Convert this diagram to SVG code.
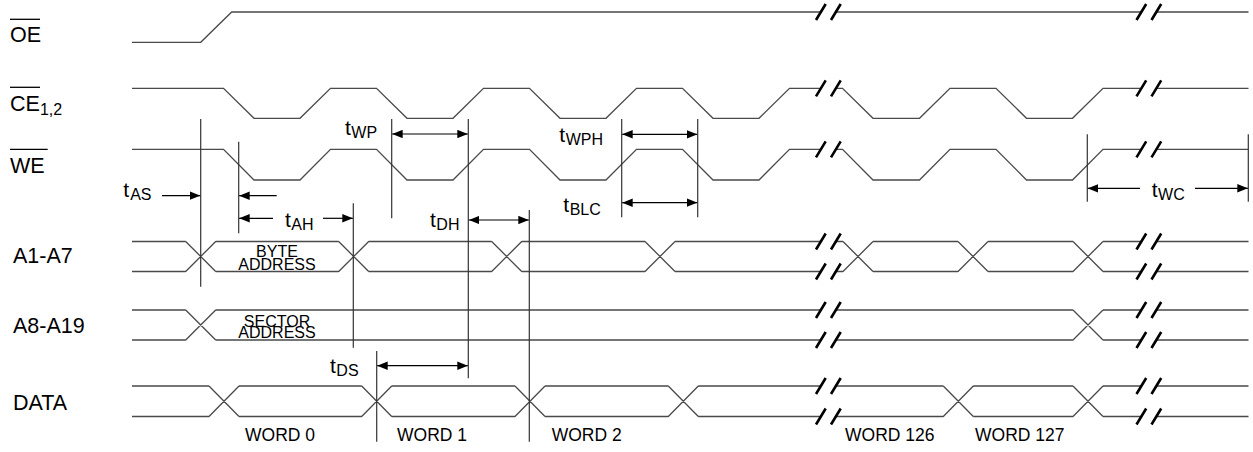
<svg xmlns="http://www.w3.org/2000/svg" width="1253" height="452" viewBox="0 0 1253 452">
<style>
.sig{fill:none;stroke:#4a4a4a;stroke-width:1.3}
.brk{stroke:#000;stroke-width:2.6;stroke-linecap:butt}
.vl{stroke:#333;stroke-width:1.2}
.ar{stroke:#000;stroke-width:1.2;fill:none}
.lbl{font-family:"Liberation Sans",Arial,sans-serif;font-size:21.5px;fill:#000}
.ol{stroke:#000;stroke-width:1.3}
.t{font-family:"Liberation Sans",Arial,sans-serif;font-size:21px;fill:#000}
.sub{font-size:16px}
.bus{font-family:"Liberation Sans",Arial,sans-serif;font-size:16px;fill:#000;text-anchor:middle}
.w{font-family:"Liberation Sans",Arial,sans-serif;font-size:17.5px;fill:#000}
</style>
<defs>
<marker id="ah" viewBox="0 0 10 8" refX="10" refY="4" markerWidth="10.5" markerHeight="8.5" markerUnits="userSpaceOnUse" orient="auto-start-reverse">
<path d="M0,0 L10,4 L0,8 z" fill="#000"/>
</marker>
</defs>
<rect width="1253" height="452" fill="#fff"/>

<g id="sig-oe">
<text class="lbl" x="10" y="42.3">OE</text>
<line class="ol" x1="10" y1="19.3" x2="40" y2="19.3"/>
<path class="sig" d="M132,42.3 H200.7 L231.7,12 H821 M836,12 H1141.5 M1156.5,12 H1248.5"/>
<path class="brk" d="M816,20 L825.7,4 M831,20 L840.7,4 M1136.5,20 L1146.2,4 M1151.5,20 L1161.2,4"/>
</g>

<g id="sig-ce">
<text class="lbl" x="10" y="111">CE<tspan class="sub" dy="4">1,2</tspan></text>
<line class="ol" x1="10" y1="87.3" x2="40" y2="87.3"/>
<path class="sig" d="M132,88.3 H223.5 L254,118.3 H300 L330.5,88.3 H376.5 L407,118.3 H453 L483.5,88.3 H529.5 L560,118.3 H606 L636.5,88.3 H682.5 L713,118.3 H759 L789.5,88.3 H821 M836,88.3 H842.5 L873,118.3 H919.5 L950,88.3 H996 L1026.5,118.3 H1072.5 L1103,88.3 H1141.5 M1156.5,88.3 H1248.5"/>
<path class="brk" d="M816,96.3 L825.7,80.3 M831,96.3 L840.7,80.3 M1136.5,96.3 L1146.2,80.3 M1151.5,96.3 L1161.2,80.3"/>
</g>

<g id="sig-we">
<text class="lbl" x="10" y="173.3">WE</text>
<line class="ol" x1="10" y1="149.3" x2="47.7" y2="149.3"/>
<path class="sig" d="M132,149.3 H223.5 L254,180 H300 L330.5,149.3 H376.5 L407,180 H453 L483.5,149.3 H529.5 L560,180 H606 L636.5,149.3 H682.5 L713,180 H759 L789.5,149.3 H821 M836,149.3 H842.5 L873,180 H919.5 L950,149.3 H996 L1026.5,180 H1072.5 L1103,149.3 H1141.5 M1156.5,149.3 H1248.5"/>
<path class="brk" d="M816,157.3 L825.7,141.3 M831,157.3 L840.7,141.3 M1136.5,157.3 L1146.2,141.3 M1151.5,157.3 L1161.2,141.3"/>
</g>

<g id="bus-a1a7">
<text class="lbl" x="13" y="263.3">A1-A7</text>
<path class="sig" d="M132,241.5 H185.7 M132,271.5 H185.7 M185.7,241.5 L215.7,271.5 M185.7,271.5 L215.7,241.5
M215.7,241.5 H338.7 M215.7,271.5 H338.7 M338.7,241.5 L368.7,271.5 M338.7,271.5 L368.7,241.5
M368.7,241.5 H491.7 M368.7,271.5 H491.7 M491.7,241.5 L521.7,271.5 M491.7,271.5 L521.7,241.5
M521.7,241.5 H645 M521.7,271.5 H645 M645,241.5 L675,271.5 M645,271.5 L675,241.5
M675,241.5 H821 M675,271.5 H821
M836,241.5 H843 M836,271.5 H843 M843,241.5 L873,271.5 M843,271.5 L873,241.5
M873,241.5 H958 M873,271.5 H958 M958,241.5 L988,271.5 M958,271.5 L988,241.5
M988,241.5 H1073 M988,271.5 H1073 M1073,241.5 L1103,271.5 M1073,271.5 L1103,241.5
M1103,241.5 H1141.5 M1103,271.5 H1141.5 M1156.5,241.5 H1248.5 M1156.5,271.5 H1248.5"/>
<path class="brk" d="M816,249.5 L825.7,233.5 M831,249.5 L840.7,233.5 M816,279.5 L825.7,263.5 M831,279.5 L840.7,263.5 M1136.5,249.5 L1146.2,233.5 M1151.5,249.5 L1161.2,233.5 M1136.5,279.5 L1146.2,263.5 M1151.5,279.5 L1161.2,263.5"/>
<text class="bus" x="277" y="256.7">BYTE</text>
<text class="bus" x="277" y="270">ADDRESS</text>
</g>

<g id="bus-a8a19">
<text class="lbl" x="13" y="333.3">A8-A19</text>
<path class="sig" d="M132,310 H185.7 M132,340 H185.7 M185.7,310 L215.7,340 M185.7,340 L215.7,310
M215.7,310 H821 M215.7,340 H821
M836,310 H1073 M836,340 H1073 M1073,310 L1103,340 M1073,340 L1103,310
M1103,310 H1141.5 M1103,340 H1141.5 M1156.5,310 H1248.5 M1156.5,340 H1248.5"/>
<path class="brk" d="M816,318 L825.7,302 M831,318 L840.7,302 M816,348 L825.7,332 M831,348 L840.7,332 M1136.5,318 L1146.2,302 M1151.5,318 L1161.2,302 M1136.5,348 L1146.2,332 M1151.5,348 L1161.2,332"/>
<text class="bus" x="277" y="326.7">SECTOR</text>
<text class="bus" x="277" y="338.3">ADDRESS</text>
</g>

<g id="bus-data">
<text class="lbl" x="13" y="410">DATA</text>
<path class="sig" d="M132,386 H209 M132,416.5 H209 M209,386 L239,416.5 M209,416.5 L239,386
M239,386 H361.7 M239,416.5 H361.7 M361.7,386 L391.7,416.5 M361.7,416.5 L391.7,386
M391.7,386 H515 M391.7,416.5 H515 M515,386 L545,416.5 M515,416.5 L545,386
M545,386 H668.3 M545,416.5 H668.3 M668.3,386 L698.3,416.5 M668.3,416.5 L698.3,386
M698.3,386 H821 M698.3,416.5 H821
M836,386 H943.3 M836,416.5 H943.3 M943.3,386 L973.3,416.5 M943.3,416.5 L973.3,386
M973.3,386 H1073 M973.3,416.5 H1073 M1073,386 L1103,416.5 M1073,416.5 L1103,386
M1103,386 H1141.5 M1103,416.5 H1141.5 M1156.5,386 H1248.5 M1156.5,416.5 H1248.5"/>
<path class="brk" d="M816,394 L825.7,378 M831,394 L840.7,378 M816,424.5 L825.7,408.5 M831,424.5 L840.7,408.5 M1136.5,394 L1146.2,378 M1151.5,394 L1161.2,378 M1136.5,424.5 L1146.2,408.5 M1151.5,424.5 L1161.2,408.5"/>
<text class="w" x="245" y="440.5">WORD 0</text>
<text class="w" x="397" y="440.5">WORD 1</text>
<text class="w" x="551.7" y="440.5">WORD 2</text>
<text class="w" x="845" y="440.5">WORD 126</text>
<text class="w" x="975" y="440.5">WORD 127</text>
</g>

<g id="connectors">
<line class="vl" x1="200.7" y1="119" x2="200.7" y2="286.7"/>
<line class="vl" x1="238.7" y1="141.7" x2="238.7" y2="233.3"/>
<line class="vl" x1="353.3" y1="203.3" x2="353.3" y2="347.7"/>
<line class="vl" x1="391.7" y1="119" x2="391.7" y2="218.3"/>
<line class="vl" x1="468.3" y1="119" x2="468.3" y2="378.3"/>
<line class="vl" x1="529.3" y1="210" x2="529.3" y2="441.7"/>
<line class="vl" x1="376.7" y1="351" x2="376.7" y2="441.7"/>
<line class="vl" x1="621.7" y1="119" x2="621.7" y2="217.3"/>
<line class="vl" x1="697.7" y1="119" x2="697.7" y2="217.3"/>
<line class="vl" x1="1087.3" y1="134.3" x2="1087.3" y2="201.7"/>
<line class="vl" x1="1248.3" y1="134.3" x2="1248.3" y2="201.7"/>

<line class="ar" x1="162" y1="195.7" x2="200.2" y2="195.7" marker-end="url(#ah)"/>
<line class="ar" x1="276.7" y1="195.7" x2="239.2" y2="195.7" marker-end="url(#ah)"/>
<line class="ar" x1="273" y1="218.3" x2="239.2" y2="218.3" marker-end="url(#ah)"/>
<line class="ar" x1="323" y1="218.3" x2="352.8" y2="218.3" marker-end="url(#ah)"/>
<line class="ar" x1="392.2" y1="134" x2="467.8" y2="134" marker-start="url(#ah)" marker-end="url(#ah)"/>
<line class="ar" x1="468.8" y1="220" x2="528.8" y2="220" marker-start="url(#ah)" marker-end="url(#ah)"/>
<line class="ar" x1="622.2" y1="134.3" x2="697.2" y2="134.3" marker-start="url(#ah)" marker-end="url(#ah)"/>
<line class="ar" x1="622.2" y1="202.7" x2="697.2" y2="202.7" marker-start="url(#ah)" marker-end="url(#ah)"/>
<line class="ar" x1="377.2" y1="365.7" x2="467.8" y2="365.7" marker-start="url(#ah)" marker-end="url(#ah)"/>
<line class="ar" x1="1140" y1="188.3" x2="1087.8" y2="188.3" marker-end="url(#ah)"/>
<line class="ar" x1="1195" y1="188.3" x2="1247.8" y2="188.3" marker-end="url(#ah)"/>

<text class="t" x="123.3" y="197.3">t<tspan class="sub" dx="1" dy="2.5">AS</tspan></text>
<text class="t" x="285" y="226.7">t<tspan class="sub" dx="0.5" dy="3.3">AH</tspan></text>
<text class="t" x="345" y="135">t<tspan class="sub" dx="0.5" dy="3.3">WP</tspan></text>
<text class="t" x="430" y="226.7">t<tspan class="sub" dx="0.5" dy="3.3">DH</tspan></text>
<text class="t" x="559.3" y="142">t<tspan class="sub" dx="0.5" dy="3.3">WPH</tspan></text>
<text class="t" x="563.3" y="211.7">t<tspan class="sub" dx="0.5" dy="3.3">BLC</tspan></text>
<text class="t" x="330" y="373">t<tspan class="sub" dx="0.5" dy="3.3">DS</tspan></text>
<text class="t" x="1151.7" y="196.7">t<tspan class="sub" dx="0.5" dy="3.3">WC</tspan></text>
</g>
</svg>
